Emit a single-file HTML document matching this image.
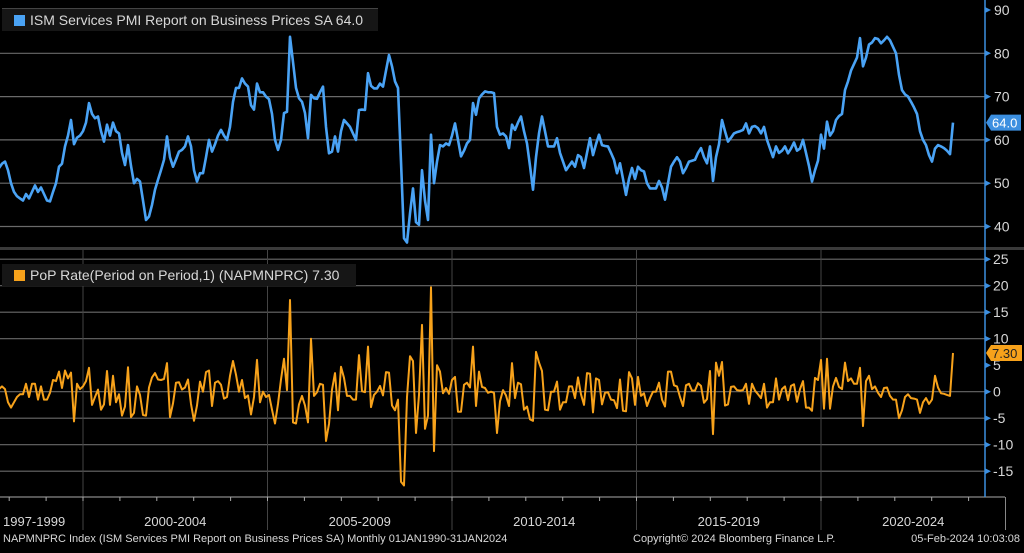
<!DOCTYPE html>
<html><head><meta charset="utf-8"><style>
body{margin:0;background:#000;width:1024px;height:548px;overflow:hidden;font-family:"Liberation Sans",sans-serif}
svg text{font-family:"Liberation Sans",sans-serif}
</style></head><body>
<svg id="chart" width="1024" height="548" xmlns="http://www.w3.org/2000/svg">
<rect width="1024" height="548" fill="#000"/>
<g id="grid"></g>
<g id="marks"></g>
<g id="axes"></g>
</svg>
<script>
// Monthly ISM Services prices index, Jun 1997 .. Jan 2024
const startYear = 1997, startMonth = 5;
const levels = [53,53.5,54.5,55,53,50,48,47,46.5,46,47.5,46.5,48,49.5,48,49,47.5,46,45.8,48,50,53.8,54.5,58.5,61,64.6,59,60.5,61,62,64,68.5,66,65,65.4,62,59.6,63.5,61,64,62,61.5,57,54.2,58.8,54,50,51,50.4,46,41.5,42.3,45,48.5,50.8,53,55.4,60.8,56,53.8,55.5,57.3,57.7,58.5,60.8,58.5,53,50.4,52.3,52.3,56,60,57.3,59,61,62.3,61,60,63,68.8,72,72,74.2,73,72.3,68,67,73,71,71,70,69.4,66,60,57.7,60,66.2,66.5,83.8,78,72,69.6,68.8,66.2,60.4,70.4,69.6,69.5,71,72.3,63,56.9,57.3,60.8,57.3,62,64.6,63.8,63,61.5,60,66.9,67,66.9,75.4,72.5,71.9,71.9,73,72.3,76,79.6,77,73.5,72,55,37.3,36.3,43,48.8,41,40.4,53,46,41.5,61.2,50,55,58.8,58.5,59.2,58.8,61,63.8,60,56.2,57.5,59.2,60,68.5,65.8,69.6,70.5,71.2,71,71,70.8,63,61.2,61.5,60.8,58.1,63.5,62.3,64,65.4,62,59.2,54,48.5,56,61.5,65.4,62,58.5,58.5,58.5,60.4,57,55,53,54,55,53.8,56.5,56,53.5,57,60.4,56.5,59,61.2,58.8,58.6,58.5,57,55.4,52.3,54.6,51,47.3,51,53.5,51,53.8,53,52.7,50,48.8,48.8,48.8,50.5,49,46.2,50,53.8,55,56,55,52.3,53.5,55,55.2,55.4,57,58.1,56,54.6,58.5,50.5,56,59,64.6,62,59.6,60.5,61.5,61.8,62,62.3,63.8,61.5,63,63.2,62.7,61.5,63,60,58,56,58.5,57,57.5,58.5,56.9,58,59.4,57.5,58,60,57,54,50.4,53,55.2,61.2,58,64.2,61,62,64.6,65.5,66,71.5,73.5,76,77.5,79,83.5,77,79,82,82.5,83.5,83.3,82.3,83,83.8,83,81.5,80,75,71.5,70.5,70,68.8,67.5,66,62,60,58.8,56.5,55,58,58.8,58.5,58.1,57.5,56.7,64];
const topTicks = [90,80,70,60,50,40];
const botTicks = [25,20,15,10,5,0,-5,-10,-15];
const periodLabels = ["1997-1999","2000-2004","2005-2009","2010-2014","2015-2019","2020-2024"];
const periodStarts = [1997,2000,2005,2010,2015,2020];

const NS="http://www.w3.org/2000/svg";
function mk(tag,attrs,parent){const e=document.createElementNS(NS,tag);for(const k in attrs)e.setAttribute(k,attrs[k]);parent.appendChild(e);return e;}
const X0=-4, STEP=3;
function xIdx(i){return X0+STEP*i;}
function xAxisYear(y){return 83+(y-2000)*36.9;}
function yTop(v){return 53.3+(80-v)*4.33;}
function yBot(v){return 391.7-v*5.3;}
const grid=document.getElementById('grid'),marks=document.getElementById('marks'),axes=document.getElementById('axes');

const pop=[];
for(let i=1;i<levels.length;i++)pop.push(levels[i]-levels[i-1]);

let d=mk('rect',{x:0,y:247,width:1024,height:3,fill:'#3a3a3a'},grid);



topTicks.forEach(t=>{
  const y=yTop(t);
  if(t!==90){const l=mk('line',{x1:0,x2:985,y1:y,y2:y,stroke:'#6a6a6a','stroke-width':1.2},grid);
  
  }
  const tk=mk('polygon',{points:`985,${y-3} 991,${y} 985,${y+3}`,fill:'#3c8fe0'},axes);
  
  
  const tx=mk('text',{x:994,y:y+5,fill:'#d8d8d8','font-size':14},axes);tx.textContent=t;
  
  
});
botTicks.forEach(t=>{
  const y=yBot(t);
  if(t!==5){const l=mk('line',{x1:0,x2:985,y1:y,y2:y,stroke:'#6a6a6a','stroke-width':1.2},grid);
  
  }
  const tk=mk('polygon',{points:`985,${y-3} 991,${y} 985,${y+3}`,fill:'#3c8fe0'},axes);
  
  
  const tx=mk('text',{x:993,y:y+5,fill:'#d8d8d8','font-size':14},axes);tx.textContent=t;
  
  
});
periodStarts.forEach((yr,i)=>{
  if(i>0){const x=xAxisYear(yr);
    const l=mk('line',{x1:x,x2:x,y1:250,y2:530,stroke:'#444','stroke-width':1},grid);
    
    }
  const xs=i===0?0:xAxisYear(yr), xe=i<periodStarts.length-1?xAxisYear(periodStarts[i+1]):xAxisYear(2025);
  const tx=mk('text',{x:i===0?3:(xs+xe)/2,y:526,fill:'#d8d8d8','font-size':13,'text-anchor':i===0?'start':'middle'},axes);
  tx.textContent=periodLabels[i];
  
  
});
let sep=mk('line',{x1:xAxisYear(2025),x2:xAxisYear(2025),y1:497,y2:530,stroke:'#888'},axes);


for(let yr=1998;yr<=2024;yr++){const x=xAxisYear(yr);
  const t=mk('line',{x1:x,x2:x,y1:497,y2:501,stroke:'#aaa'},axes);
  
  }
let ax=mk('line',{x1:0,x2:1005,y1:497,y2:497,stroke:'#aaa','stroke-width':1},axes);


let ry=mk('line',{x1:985,x2:985,y1:0,y2:497,stroke:'#3c8fe0','stroke-width':1.5},axes);



let p='';levels.forEach((v,i)=>{p+=(i?'L':'M')+xIdx(i).toFixed(1)+','+yTop(v).toFixed(1);});
const tl=mk('path',{d:p,fill:'none',stroke:'#4aa3f5','stroke-width':2.6,'stroke-linejoin':'round'},marks);


let q='';pop.forEach((v,i)=>{q+=(i?'L':'M')+xIdx(i+1).toFixed(1)+','+yBot(v).toFixed(1);});
const bl=mk('path',{d:q,fill:'none',stroke:'#f7a21b','stroke-width':2,'stroke-linejoin':'round'},marks);



const lv=levels[levels.length-1], yl=yTop(lv);
const tg=mk('polygon',{points:`986,${yl} 991,${yl-8} 1021,${yl-8} 1021,${yl+8} 991,${yl+8}`,fill:'#3c8fe0'},axes);


const tt=mk('text',{x:992,y:yl+5,fill:'#fff','font-size':13},axes);tt.textContent=lv.toFixed(1);


const pv=pop[pop.length-1], yp=yBot(pv);
const tg2=mk('polygon',{points:`986,${yp} 991,${yp-8} 1022,${yp-8} 1022,${yp+8} 991,${yp+8}`,fill:'#f7a21b'},axes);


const tt2=mk('text',{x:992,y:yp+5,fill:'#222','font-size':13},axes);tt2.textContent=pv.toFixed(2);


</script>
<div style="position:absolute;left:2px;top:8px;width:376px;height:22px;background:#161616;border-top:1px solid #444;color:#d8d8d8;font-size:14px;line-height:22px;white-space:nowrap"><span style="display:inline-block;width:11px;height:11px;background:#4aa3f5;margin:0 5px 0 12px;vertical-align:-1px"></span>ISM Services PMI Report on Business Prices SA 64.0</div>
<div style="position:absolute;left:2px;top:264px;width:354px;height:22px;background:#161616;color:#d8d8d8;font-size:14px;line-height:22px;white-space:nowrap"><span style="display:inline-block;width:11px;height:11px;background:#f7a21b;margin:0 5px 0 12px;vertical-align:-1px"></span>PoP Rate(Period on Period,1) (NAPMNPRC) 7.30</div>
<div style="position:absolute;left:3px;top:533px;width:1020px;color:#d8d8d8;font-size:11px;white-space:nowrap">
<span style="position:absolute;left:0">NAPMNPRC Index (ISM Services PMI Report on Business Prices SA) Monthly 01JAN1990-31JAN2024</span>
<span style="position:absolute;left:630px">Copyright© 2024 Bloomberg Finance L.P.</span>
<span style="position:absolute;right:3px">05-Feb-2024 10:03:08</span>
</div>
</body></html>
